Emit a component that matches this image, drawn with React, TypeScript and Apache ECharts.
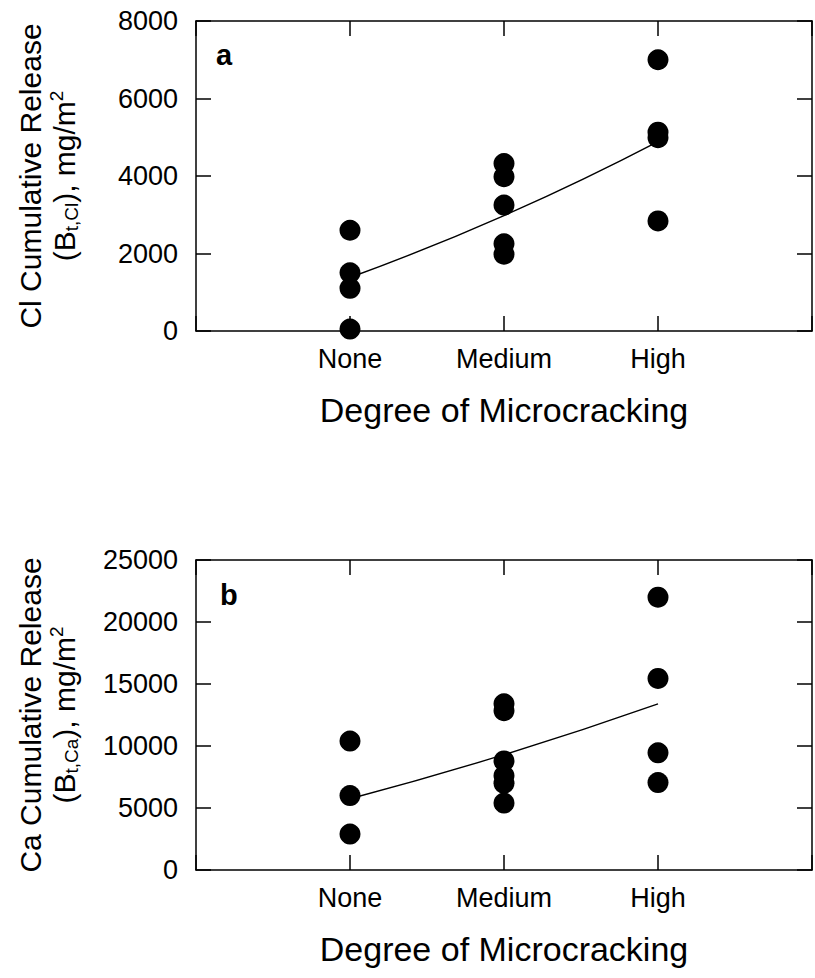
import React, { useEffect, useRef } from "react";
import * as echarts from "echarts";

const categories = ["None", "Medium", "High"];

// Panel a: Cl cumulative release (mg/m2), observed points per category
const clNone = [2600, 1500, 1100, 50];
const clMedium = [4320, 3980, 3250, 2250, 1980];
const clHigh = [7000, 5130, 4990, 2840];
const clFit = [1380, 2980, 4890];

// Panel b: Ca cumulative release (mg/m2)
const caNone = [10400, 6000, 2900];
const caMedium = [13400, 12850, 8800, 7600, 7000, 5400];
const caHigh = [22000, 15450, 9450, 7050];
const caFit = [5750, 9300, 13400];

const clTicks = { min: 0, max: 8000, interval: 2000 };
const caTicks = { min: 0, max: 25000, interval: 5000 };

const FONT = "'Liberation Sans', Arial, Helvetica, sans-serif";

function pts(groups: number[][]) {
  const out: number[][] = [];
  groups.forEach((g, i) => g.forEach((v) => out.push([i + 1, v])));
  return out;
}

const mkLine = () => ({ show: true, onZero: false, lineStyle: { color: "#000", width: 1.5 } });
const mkTick = () => ({ show: true, inside: true, length: 15, lineStyle: { color: "#000", width: 1.5 } });

export default function App() {
  const ref = useRef<HTMLDivElement>(null);
  useEffect(() => {
    if (!ref.current) return;
    const chart = echarts.init(ref.current, null, { renderer: "svg" });
    const grids = [
      { left: 196, top: 21, width: 624, height: 310 },
      { left: 196, top: 560, width: 624, height: 310 },
    ];
    const xAxes: any[] = [];
    const yAxes: any[] = [];
    const mkRich = () => ({
      p: { fontSize: 30, fontFamily: FONT, color: "#000", lineHeight: 34, verticalAlign: "middle" },
      sub: { fontSize: 19, fontFamily: FONT, color: "#000", verticalAlign: "bottom" },
      sup: { fontSize: 19, fontFamily: FONT, color: "#000", verticalAlign: "top" },
    });
    const yNames = [
      "{p|Cl Cumulative Release}\n{p|(B}{sub|t,Cl}{p|), mg/m}{sup|2}",
      "{p|Ca Cumulative Release}\n{p|(B}{sub|t,Ca}{p|), mg/m}{sup|2}",
    ];
    const yScales = [clTicks, caTicks];
    [0, 1].forEach((gi) => {
      xAxes.push({
        gridIndex: gi,
        type: "value",
        position: "bottom",
        min: 0,
        max: 4,
        interval: 1,
        axisLine: mkLine(),
        axisTick: mkTick(),
        splitLine: { show: false },
        axisLabel: {
          fontSize: 27,
          fontFamily: FONT,
          color: "#000",
          margin: 14,
          formatter: (v: number) => categories[v - 1] ?? "",
        },
        name: "Degree of Microcracking",
        nameLocation: "middle",
        nameGap: 62,
        nameTextStyle: { fontSize: 34, fontFamily: FONT, color: "#000" },
      });
      xAxes.push({
        gridIndex: gi,
        type: "value",
        position: "top",
        min: 0,
        max: 4,
        interval: 1,
        axisLine: mkLine(),
        axisTick: mkTick(),
        splitLine: { show: false },
        axisLabel: { show: false },
      });
      yAxes.push({
        gridIndex: gi,
        type: "value",
        position: "left",
        ...yScales[gi],
        axisLine: mkLine(),
        axisTick: mkTick(),
        splitLine: { show: false },
        axisLabel: {
          fontSize: 27,
          fontFamily: FONT,
          color: "#000",
          margin: 18,
          formatter: (v: number) => String(v),
        },
        name: yNames[gi],
        nameLocation: "middle",
        nameRotate: 90,
        nameGap: 115,
        nameTextStyle: { rich: mkRich() },
      });
      yAxes.push({
        gridIndex: gi,
        type: "value",
        position: "right",
        ...yScales[gi],
        axisLine: mkLine(),
        axisTick: mkTick(),
        splitLine: { show: false },
        axisLabel: { show: false },
      });
    });
    const fitLine = (data: number[], xi: number, yi: number) => ({
      type: "line",
      xAxisIndex: xi,
      yAxisIndex: yi,
      data: data.map((v, i) => [i + 1, v]),
      smooth: 0.5,
      symbol: "none",
      lineStyle: { color: "#000", width: 1.4 },
      z: 1,
    });
    const scatter = (groups: number[][], xi: number, yi: number) => ({
      type: "scatter",
      xAxisIndex: xi,
      yAxisIndex: yi,
      data: pts(groups),
      symbol: "circle",
      symbolSize: 21,
      itemStyle: { color: "#000", opacity: 1 },
      z: 3,
    });
    chart.setOption({
      animation: false,
      backgroundColor: "#fff",
      grid: grids,
      xAxis: xAxes,
      yAxis: yAxes,
      series: [
        fitLine(clFit, 0, 0),
        scatter([clNone, clMedium, clHigh], 0, 0),
        fitLine(caFit, 2, 2),
        scatter([caNone, caMedium, caHigh], 2, 2),
      ],
      graphic: [
        { type: "text", left: 216, top: 40, style: { text: "a", font: `bold 29px ${FONT}`, fill: "#000" } },
        { type: "text", left: 220, top: 580, style: { text: "b", font: `bold 29px ${FONT}`, fill: "#000" } },
      ],
    });
    return () => chart.dispose();
  }, []);
  return (
    <div
      ref={ref}
      style={{ position: "absolute", left: 0, top: 0, width: 815, height: 978 }}
    />
  );
}
